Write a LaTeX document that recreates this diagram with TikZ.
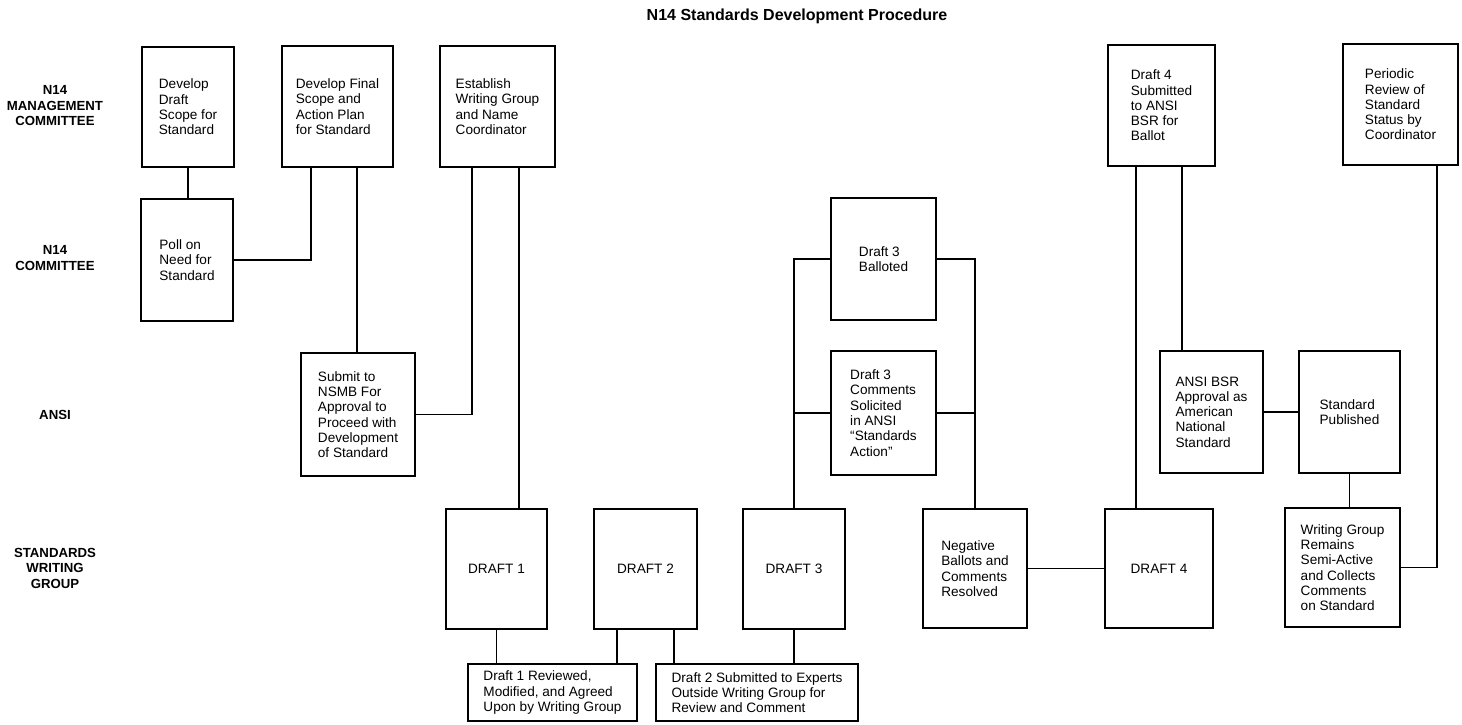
\documentclass[tikz,border=0pt]{standalone}
\usepackage{fontspec}
\setmainfont{Liberation Sans}
\usetikzlibrary{calc}
\tikzset{
  box/.style 2 args={draw, line width=1.7pt, align=left, inner sep=0pt,
    minimum width=#1pt, minimum height=#2pt,
    font=\fontsize{13.6}{15.3}\selectfont},
  lab/.style={align=center, font=\bfseries\fontsize{13.2}{15.5}\selectfont},
  conn/.style={line width=1.5pt},
}
\begin{document}
\begin{tikzpicture}[x=1pt,y=-1pt]
\useasboundingbox (0,0) rectangle (1462,725);

% title
\node[font=\bfseries\fontsize{16}{18}\selectfont] (title) at (797,16) {N14 Standards Development Procedure};

% row labels
\node[lab] (l1) at (55,106) {N14\\MANAGEMENT\\COMMITTEE};
\node[lab] (l2) at (55,258) {N14\\COMMITTEE};
\node[lab] (l3) at (55,415) {ANSI};
\node[lab] (l4) at (55,568) {STANDARDS\\WRITING\\GROUP};

% boxes
\node[box={92}{120}] (dds) at (188,107) {Develop\\Draft\\Scope for\\Standard};
\node[box={111}{121}] (dfs) at (337.5,106.5) {Develop Final\\Scope and\\Action Plan\\for Standard};
\node[box={115}{121}] (ewg) at (497.5,106.5) {Establish\\Writing Group\\and Name\\Coordinator};
\node[box={92}{122}] (poll) at (187,260) {Poll on\\Need for\\Standard};
\node[box={114}{123}] (nsmb) at (358,414.5) {Submit to\\NSMB For\\Approval to\\Proceed with\\Development\\of Standard};
\node[box={101}{120}] (d1) at (496.5,569) {DRAFT 1};
\node[box={103}{120}] (d2) at (645.5,569) {DRAFT 2};
\node[box={169}{57}] (rev1) at (552.5,692.5) {Draft 1 Reviewed,\\Modified, and Agreed\\Upon by Writing Group};
\node[box={202}{57}] (rev2) at (757,692.5) {Draft 2 Submitted to Experts\\Outside Writing Group for\\Review and Comment};
\node[box={105}{122}] (bal) at (883.5,259) {Draft 3\\Balloted};
\node[box={105}{124}] (com) at (883.5,413) {Draft 3\\Comments\\Solicited\\in ANSI\\“Standards\\Action”};
\node[box={102}{120}] (d3) at (794,569) {DRAFT 3};
\node[box={104}{119}] (neg) at (975,568.5) {Negative\\Ballots and\\Comments\\Resolved};
\node[box={107}{121}] (d4s) at (1161.5,105.5) {Draft 4\\Submitted\\to ANSI\\BSR for\\Ballot};
\node[box={108}{119}] (d4) at (1159,568.5) {DRAFT 4};
\node[box={103}{122}] (bsr) at (1211.5,412) {ANSI BSR\\Approval as\\American\\National\\Standard};
\node[box={101}{122}] (pub) at (1349.5,412) {Standard\\Published};
\node[box={115}{119}] (wg) at (1342.5,567.5) {Writing Group\\Remains\\Semi-Active\\and Collects\\Comments\\on Standard};
\node[box={115}{121}] (per) at (1400.5,104.5) {Periodic\\Review of\\Standard\\Status by\\Coordinator};

% helper coordinates
\coordinate (c1) at ([xshift=30pt]dfs.south west);
\coordinate (c2) at ([xshift=76pt]dfs.south west);
\coordinate (c3) at ([xshift=33pt]ewg.south west);
\coordinate (c4) at ([xshift=80pt]ewg.south west);
\coordinate (c5) at ([xshift=24pt]d2.south west);
\coordinate (c6) at ([xshift=81pt]d2.south west);
\coordinate (c7) at ([xshift=32pt]d4.north west);
\coordinate (c8) at ([xshift=23pt]bsr.north west);
\coordinate (c9) at ([xshift=-22pt]per.south east);

% connectors
\draw[conn] (dds.south) -- (dds.south |- poll.north);
\draw[conn] (poll.east) -| (c1);
\draw[conn] (c2) -- (c2 |- nsmb.north);
\draw[conn] (nsmb.east) -| (c3);
\draw[conn] (c4) -- (c4 |- d1.north);
\draw[conn] (d1.south) -- (d1.south |- rev1.north);
\draw[conn] (c5) -- (c5 |- rev1.north);
\draw[conn] (c6) -- (c6 |- rev2.north);
\draw[conn] (d3.south) -- (d3.south |- rev2.north);
\draw[conn] (bal.west) -| (d3.north);
\draw[conn] (com.west) -- (com.west -| d3.north);
\draw[conn] (bal.east) -| (neg.north);
\draw[conn] (com.east) -- (com.east -| neg.north);
\draw[conn] (neg.east) -- (neg.east -| d4.west);
\draw[conn] (c7) -- (c7 |- d4s.south);
\draw[conn] (c8) -- (c8 |- d4s.south);
\draw[conn] (bsr.east) -- (bsr.east -| pub.west);
\draw[conn] (pub.south) -- (pub.south |- wg.north);
\draw[conn] (wg.east) -| (c9);
\end{tikzpicture}
\end{document}
